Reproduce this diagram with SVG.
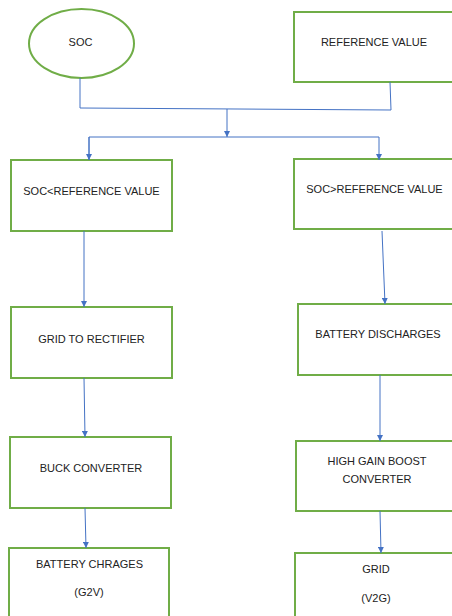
<svg xmlns="http://www.w3.org/2000/svg" width="452" height="616" viewBox="0 0 452 616">
<defs>
<style>
.n{fill:#fff;stroke:#70AD47;stroke-width:2}
.t{font-family:"Liberation Sans",Arial,sans-serif;font-size:11px;fill:#222;text-anchor:middle}
.c{fill:none;stroke:#4472C4;stroke-width:1}
</style>
<marker id="a" viewBox="0 0 10 10" refX="10" refY="5" markerWidth="6" markerHeight="6" orient="auto" markerUnits="userSpaceOnUse">
<path d="M0,0 L10,5 L0,10 Z" fill="#4472C4"/>
</marker>
</defs>
<rect width="452" height="616" fill="#fff"/>
<g id="soc"><ellipse class="n" cx="81.5" cy="43.5" rx="52.5" ry="34.5"/><text class="t" x="80.5" y="46">SOC</text></g>
<g id="ref"><rect class="n" x="294" y="12" width="170" height="70"/><text class="t" x="374" y="46">REFERENCE VALUE</text></g>
<g id="lt"><rect class="n" x="11" y="160" width="161" height="71"/><text class="t" x="91.5" y="195">SOC&lt;REFERENCE VALUE</text></g>
<g id="gt"><rect class="n" x="294" y="159" width="170" height="70"/><text class="t" x="374.5" y="193">SOC&gt;REFERENCE VALUE</text></g>
<g id="grid2rect"><rect class="n" x="11" y="307" width="161" height="71"/><text class="t" x="91.5" y="343">GRID TO RECTIFIER</text></g>
<g id="discharge"><rect class="n" x="298" y="304" width="166" height="71"/><text class="t" x="378" y="338">BATTERY DISCHARGES</text></g>
<g id="buck"><rect class="n" x="10" y="437" width="161" height="71"/><text class="t" x="91" y="472">BUCK CONVERTER</text></g>
<g id="boost"><rect class="n" x="296" y="441" width="168" height="70"/><text class="t" x="377" y="465">HIGH GAIN BOOST</text><text class="t" x="377" y="483">CONVERTER</text></g>
<g id="charge"><rect class="n" x="9" y="548" width="160" height="80"/><text class="t" x="89.5" y="568">BATTERY CHRAGES</text><text class="t" x="89" y="596">(G2V)</text></g>
<g id="grid"><rect class="n" x="295" y="553" width="169" height="80"/><text class="t" x="376" y="573">GRID</text><text class="t" x="376" y="602">(V2G)</text></g>
<g id="connectors">
<path class="c" d="M80,78 L80,108 L391,110 L390,82"/>
<path class="c" d="M227,109 L227,137" marker-end="url(#a)"/>
<path class="c" d="M89,160 L89,137 L379,137 L379,160" marker-end="url(#a)"/>
<path class="c" d="M89,137 L89,160" marker-end="url(#a)"/>
<path class="c" d="M84,231 L84,307" marker-end="url(#a)"/>
<path class="c" d="M382,231 L385,304" marker-end="url(#a)"/>
<path class="c" d="M84,378 L85,437" marker-end="url(#a)"/>
<path class="c" d="M380,375 L380,441" marker-end="url(#a)"/>
<path class="c" d="M85,508 L86,548" marker-end="url(#a)"/>
<path class="c" d="M380,511 L381,553" marker-end="url(#a)"/>
</g>
</svg>
